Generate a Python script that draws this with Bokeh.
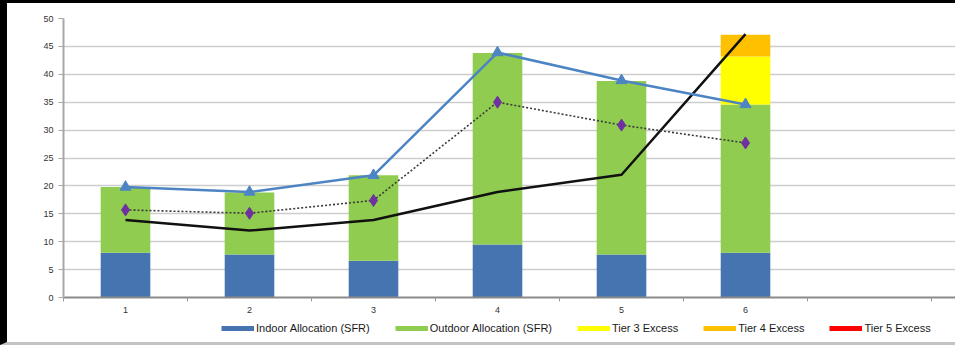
from bokeh.plotting import figure
from bokeh.models import ColumnDataSource, FixedTicker, Legend, LegendItem
from bokeh.layouts import column
from bokeh.embed import file_html
from bokeh.resources import INLINE

# Monthly water budget per period
periods = [1, 2, 3, 4, 5, 6]
indoor = [8.0, 7.7, 6.6, 9.5, 7.7, 8.0]
outdoor = [11.8, 11.1, 15.3, 34.3, 31.1, 26.6]
tier3 = [0, 0, 0, 0, 0, 8.6]
tier4 = [0, 0, 0, 0, 0, 3.9]
tier5 = [0, 0, 0, 0, 0, 0]
allocation = [19.8, 18.9, 21.9, 43.9, 38.9, 34.6]
average = [15.7, 15.1, 17.4, 35.0, 30.9, 27.7]
usage = [13.9, 12.0, 13.9, 18.9, 22.0, 47.2]

y_ticks = [0, 5, 10, 15, 20, 25, 30, 35, 40, 45, 50]

stack_keys = ["indoor", "outdoor", "tier3", "tier4", "tier5"]
stack_colors = ["#4674b0", "#8fcc4f", "#ffff00", "#ffc000", "#ff0000"]
stack_labels = ["Indoor Allocation (SFR)", "Outdoor Allocation (SFR)",
                "Tier 3 Excess", "Tier 4 Excess", "Tier 5 Excess"]

src = ColumnDataSource(dict(x=periods, indoor=indoor, outdoor=outdoor,
                            tier3=tier3, tier4=tier4, tier5=tier5))

FONT = "Liberation Sans"
CAT_PX = 124.0
FRAME_W = 892

p = figure(width=948, height=315, output_backend="svg", toolbar_location=None,
           x_range=(0.5, 0.5 + FRAME_W / CAT_PX), y_range=(0, 50),
           min_border_left=56, min_border_right=0, min_border_top=15,
           min_border_bottom=21, background_fill_color="white",
           border_fill_color="white")
p.outline_line_color = None

p.vbar_stack(stack_keys, x="x", width=0.4, source=src,
             color=stack_colors, line_color=None)

p.line(periods, usage, line_color="#111111", line_width=2.5)
p.line(periods, average, line_color="#3a3a3a", line_width=1.6, line_dash="2 2")
p.scatter(periods, average, marker="diamond", size=12, fill_color="#7030a0",
          line_color="#7030a0")
p.line(periods, allocation, line_color="#4d84c4", line_width=2.5)
p.scatter(periods, allocation, marker="triangle", size=11, fill_color="#4d84c4",
          line_color="#4d84c4")

# axes
p.yaxis.ticker = FixedTicker(ticks=y_ticks)
p.yaxis.axis_line_color = "#a8a8a8"
p.yaxis.axis_line_width = 2
p.yaxis.major_tick_line_color = "#a8a8a8"
p.yaxis.major_tick_out = 5
p.yaxis.major_tick_in = 0
p.yaxis.minor_tick_line_color = None
p.yaxis.major_label_standoff = 5
p.yaxis.major_label_text_font = FONT
p.yaxis.major_label_text_font_size = "9px"
p.yaxis.major_label_text_color = "#333333"

p.xaxis.ticker = FixedTicker(ticks=periods,
                             minor_ticks=[0.5 + i for i in range(8)])
p.xaxis.axis_line_color = "#8a8a8a"
p.xaxis.axis_line_width = 2
p.xaxis.major_tick_line_color = None
p.xaxis.major_tick_out = 0
p.xaxis.major_tick_in = 0
p.xaxis.minor_tick_line_color = "#9a9a9a"
p.xaxis.minor_tick_out = 4
p.xaxis.minor_tick_in = 0
p.xaxis.major_label_standoff = 5
p.xaxis.major_label_text_font = FONT
p.xaxis.major_label_text_font_size = "9px"
p.xaxis.major_label_text_color = "#333333"

p.xgrid.grid_line_color = None
p.ygrid.ticker = FixedTicker(ticks=y_ticks)
p.ygrid.grid_line_color = "#cdcdcd"
p.ygrid.grid_line_width = 1.5

# legend strip under the chart, with thin colour swatches
lg = figure(width=948, height=24, output_backend="svg", toolbar_location=None,
            x_range=(0, 1), y_range=(0, 1), x_axis_location=None,
            y_axis_location=None, min_border=0, background_fill_color="white",
            border_fill_color="white")
lg.outline_line_color = None
lg.grid.grid_line_color = None

nan = float("nan")
swatches = [lg.line(x=[nan], y=[nan], line_color=c, line_width=5)
            for c in stack_colors]

legend = Legend(items=[LegendItem(label=lab, renderers=[r])
                       for lab, r in zip(stack_labels, swatches)],
                orientation="horizontal", location=(158, 8),
                glyph_width=33, glyph_height=12, label_height=12,
                label_standoff=2, spacing=25, padding=0, margin=0,
                border_line_color=None, background_fill_alpha=0,
                label_text_font=FONT, label_text_font_size="11px",
                label_text_color="#1a1a1a")
lg.add_layout(legend, "center")

page = column(p, lg, spacing=0,
              styles={"border-top": "3px solid #000",
                      "border-left": "7px solid #000",
                      "border-bottom": "3px solid #c4c4c4"})

open("out.html", "w").write(file_html(page, INLINE))
